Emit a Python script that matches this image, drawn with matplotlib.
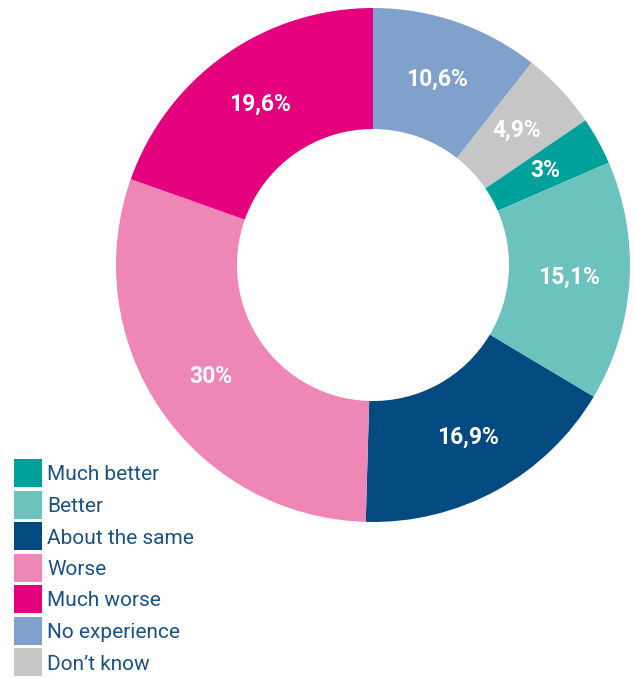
import matplotlib.pyplot as plt
from matplotlib.patches import Rectangle

# slices in drawing order (clockwise from 12 o'clock)
categories = ['No experience', "Don\u2019t know", 'Much better', 'Better',
              'About the same', 'Worse', 'Much worse']
values = [10.6, 4.9, 3.0, 15.1, 16.9, 30.0, 19.6]
colors = ['#7fa1cc', '#c6c6c6', '#00a19a', '#6cc3be', '#024a80', '#ee87b5', '#e5007e']

legend_order = ['Much better', 'Better', 'About the same', 'Worse',
                'Much worse', 'No experience', "Don\u2019t know"]

plt.rcParams['font.family'] = ['Roboto', 'DejaVu Sans']

W, H = 635, 679
fig = plt.figure(figsize=(W / 100, H / 100), dpi=100)
ax = fig.add_axes([0, 0, 1, 1])

labels = [('%g' % v).replace('.', ',') + '%' for v in values]
wedges, texts = ax.pie(values, colors=colors, startangle=90, counterclock=False,
                       center=(373, H - 265), radius=257, labels=labels,
                       labeldistance=0.765, frame=True,
                       wedgeprops=dict(width=257 - 136, linewidth=0))
ax.set_xlim(0, W)
ax.set_ylim(0, H)
ax.set_aspect('equal')
ax.axis('off')
for t in texts:
    t.set_ha('center')
    t.set_va('center')
    t.set_color('white')
    t.set_fontweight('bold')
    t.set_fontsize(16.5)

# legend drawn by hand: 28px squares, 31.5px pitch
for i, name in enumerate(legend_order):
    top = H - (459 + 31.5 * i)
    ax.add_patch(Rectangle((14, top - 28), 28, 28, linewidth=0,
                           facecolor=colors[categories.index(name)]))
    ax.text(47, top - 14, name, ha='left', va='center_baseline',
            fontsize=15, color='#1a5285')

fig.savefig('out.png', dpi=100)
